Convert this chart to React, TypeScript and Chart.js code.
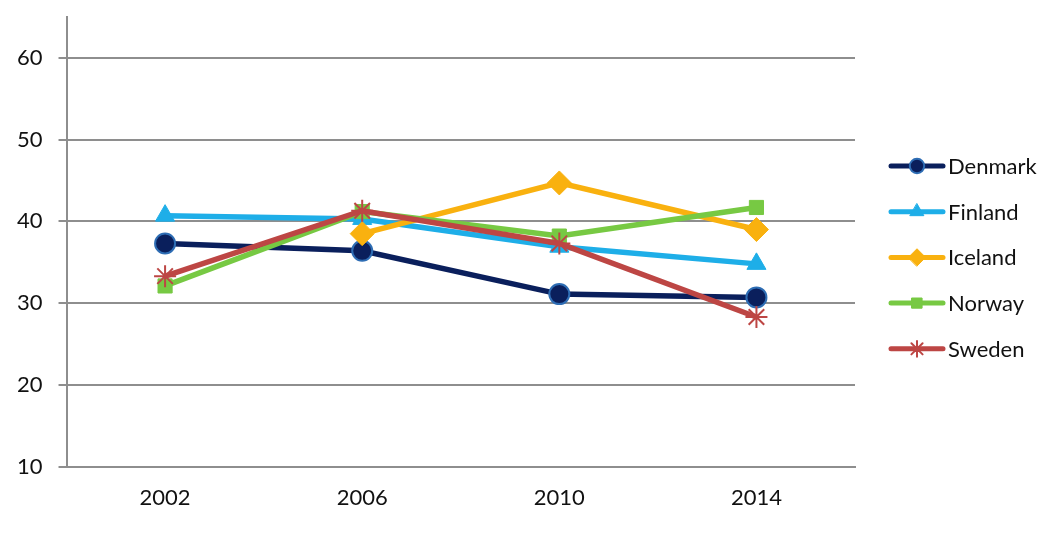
import { useEffect, useRef } from "react";
import { Chart, registerables } from "chart.js";
import { drawPoint } from "chart.js/helpers";

Chart.register(...registerables);

const years = ["2002", "2006", "2010", "2014"];
const denmark = [37.3, 36.4, 31.1, 30.7];
const finland = [40.7, 40.3, 36.9, 34.8];
const iceland = [null, 38.5, 44.7, 39.0];
const norway = [32.1, 41.2, 38.2, 41.7];
const sweden = [33.3, 41.3, 37.3, 28.3];
const yTicks = [10, 20, 30, 40, 50, 60];

const FONT = "Lato, 'Open Sans', sans-serif";
const GRID = "#8e8e8e";

// Excel-style legend: a short line with the marker in the middle
const sideLegend = {
  id: "sideLegend",
  afterDraw(chart: Chart) {
    const { ctx } = chart;
    const x0 = chart.chartArea.right + 36;
    const lineLen = 52;
    const top = 166;
    const step = 45.7;
    ctx.save();
    chart.data.datasets.forEach((ds: any, i: number) => {
      const y = top + i * step;
      ctx.strokeStyle = ds.borderColor;
      ctx.lineWidth = 5;
      ctx.lineCap = "round";
      ctx.beginPath();
      ctx.moveTo(x0, y);
      ctx.lineTo(x0 + lineLen, y);
      ctx.stroke();
      ctx.fillStyle = ds.pointBackgroundColor;
      ctx.strokeStyle = ds.pointBorderColor;
      ctx.lineWidth = ds.pointBorderWidth;
      drawPoint(
        ctx,
        {
          pointStyle: ds.pointStyle,
          radius: ds.pointRadius * 0.72,
          rotation: 0,
          borderWidth: ds.pointBorderWidth,
        },
        x0 + lineLen / 2,
        y
      );
      ctx.fillStyle = "#111";
      ctx.font = `22px ${FONT}`;
      ctx.textBaseline = "middle";
      ctx.textAlign = "left";
      ctx.fillText(ds.label, x0 + lineLen + 5, y + 1);
    });
    ctx.restore();
  },
};

export default function App() {
  const canvasRef = useRef<HTMLCanvasElement>(null);
  const chartRef = useRef<Chart | null>(null);

  useEffect(() => {
    if (!canvasRef.current) return;
    if (chartRef.current) chartRef.current.destroy();

    const line = (
      label: string,
      data: (number | null)[],
      color: string,
      pointStyle: string,
      radius: number,
      order: number,
      pointBorder = color,
      pointBorderWidth = 1
    ) => ({
      label,
      data,
      borderColor: color,
      backgroundColor: color,
      borderWidth: 5.5,
      pointStyle,
      pointRadius: radius,
      pointBackgroundColor: color,
      pointBorderColor: pointBorder,
      pointBorderWidth,
      tension: 0,
      order,
      clip: false,
    });

    chartRef.current = new Chart(canvasRef.current, {
      type: "line",
      data: {
        labels: years,
        datasets: [
          line("Denmark", denmark, "#0a1f5c", "circle", 10, 5, "#2e6db4", 2),
          line("Finland", finland, "#1eaee8", "triangle", 11, 4),
          line("Iceland", iceland, "#f9b10f", "rectRot", 12, 3),
          line("Norway", norway, "#77c943", "rect", 10, 2),
          line("Sweden", sweden, "#bd4644", "star", 11, 1, "#bd4644", 2),
        ] as any,
      },
      options: {
        animation: false,
        responsive: true,
        maintainAspectRatio: false,
        layout: { autoPadding: false, padding: { top: 17, right: 206, bottom: 14, left: 1 } },
        plugins: {
          legend: { display: false },
          tooltip: { enabled: false },
        },
        scales: {
          x: {
            offset: true,
            grid: { display: false, drawTicks: false },
            border: { display: true, color: GRID, width: 2 },
            ticks: { color: "#111", font: { family: FONT, size: 22 }, padding: 18 },
          },
          y: {
            min: 10,
            max: 65,
            afterBuildTicks: (scale: any) => {
              scale.ticks = yTicks.map((v) => ({ value: v }));
            },
            // the label padding would otherwise push the plot top down
            afterFit: (scale: any) => {
              scale.paddingTop = 0;
              scale.paddingBottom = 0;
            },
            grid: { color: GRID, lineWidth: 2, tickLength: 8 },
            border: { display: true, color: GRID, width: 2 },
            ticks: { color: "#111", font: { family: FONT, size: 22 }, padding: 16 },
          },
        },
      },
      plugins: [sideLegend],
    });

    return () => {
      chartRef.current?.destroy();
      chartRef.current = null;
    };
  }, []);

  return (
    <div style={{ position: "fixed", left: 0, top: 0, width: 1061, height: 543, background: "#fff" }}>
      <canvas ref={canvasRef} />
    </div>
  );
}
